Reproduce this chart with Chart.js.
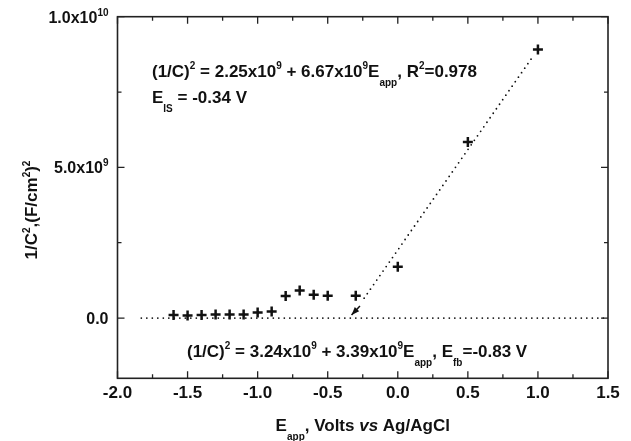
<!DOCTYPE html>
<html>
<head>
<meta charset="utf-8">
<script src="https://cdn.jsdelivr.net/npm/chart.js@4.4.1/dist/chart.umd.min.js"></script>
<style>
  html, body { margin: 0; padding: 0; background: #fff; }
  #wrap { width: 631px; height: 441px; }
</style>
</head>
<body>
<div id="wrap"><canvas id="mottSchottky" width="631" height="441"></canvas></div>
<script>
// Mott-Schottky plot: 1/C^2 against applied potential.
// Scatter of measured points + two dotted fit lines, framed box axes
// with inward ticks. Rich text (super/subscripts) is drawn by a plugin.

const FONT = "'Liberation Sans', Arial, sans-serif";
const INK = "#111";

// Measured points (E_app in V vs Ag/AgCl)
const eApp = [-1.6, -1.5, -1.4, -1.3, -1.2, -1.1, -1.0, -0.9, -0.8, -0.7, -0.6, -0.5, -0.3, 0.0, 0.5, 1.0];
const invC2 = [0.10e9, 0.08e9, 0.10e9, 0.12e9, 0.12e9, 0.12e9, 0.18e9, 0.22e9,
               0.73e9, 0.91e9, 0.77e9, 0.74e9, 0.74e9, 1.70e9, 5.84e9, 8.91e9];

// Dotted fit lines, ends
const steepFitX = [-0.24, 0.97];
const steepFitY = [0.66e9, 8.72e9];
const flatFitX = [-1.83, 1.5];
const flatFitY = [0, 0];

// Small arrow pointing at the intercept of the steep fit
const arrowTail = [-0.27, 0.40e9];
const arrowHead = [-0.33, 0.10e9];

// Axis ticks
const xMajorTicks = [-2.0, -1.5, -1.0, -0.5, 0.0, 0.5, 1.0, 1.5];
const xMinorTicks = [-1.75, -1.25, -0.75, -0.25, 0.25, 0.75, 1.25];
const yMajorTicks = [0, 5e9, 1e10];
const yMinorTicks = [2.5e9, 7.5e9];
const yTickLabels = ["0.0", "5.0x10^{9}", "1.0x10^{10}"];

// Text ( ^{} superscript, _{} subscript, ~{} italic )
const fitText1 = "(1/C)^{2} = 2.25x10^{9} + 6.67x10^{9}E_{app}, R^{2}=0.978";
const fitText2 = "E_{IS} = -0.34 V";
const fitText3 = "(1/C)^{2} = 3.24x10^{9} + 3.39x10^{9}E_{app}, E_{fb}=-0.83 V";
const xTitle = "E_{app}, Volts ~{vs} Ag/AgCl";
const yTitle = "1/C^{2},(F/cm^{2})^{2}";

// ─── Rich text helpers ───────────────────────────────────────────────────────

function parseRich(s) {
  const parts = [];
  const re = /([\^_~])\{([^}]*)\}/g;
  let last = 0, m;
  while ((m = re.exec(s))) {
    if (m.index > last) parts.push({ t: s.slice(last, m.index), k: "" });
    parts.push({ t: m[2], k: m[1] });
    last = re.lastIndex;
  }
  if (last < s.length) parts.push({ t: s.slice(last), k: "" });
  return parts;
}

function drawRich(ctx, s, x, y, size, align) {
  const parts = parseRich(s);
  const small = Math.round(size * 0.6);
  const fontFor = (k) =>
    k === "^" || k === "_" ? `bold ${small}px ${FONT}`
    : k === "~" ? `italic bold ${size}px ${FONT}`
    : `bold ${size}px ${FONT}`;
  let w = 0;
  parts.forEach((p) => { ctx.font = fontFor(p.k); p.w = ctx.measureText(p.t).width; w += p.w; });
  let cx = align === "center" ? x - w / 2 : align === "right" ? x - w : x;
  ctx.textAlign = "left";
  ctx.textBaseline = "alphabetic";
  ctx.fillStyle = INK;
  parts.forEach((p) => {
    ctx.font = fontFor(p.k);
    const dy = p.k === "^" ? -size * 0.42 : p.k === "_" ? size * 0.55 : 0;
    ctx.fillText(p.t, cx, y + dy);
    cx += p.w;
  });
}

// ─── Frame, ticks, labels, annotations ───────────────────────────────────────

const framePlugin = {
  id: "frame",
  afterDraw(chart) {
    const { ctx, chartArea: a, scales } = chart;
    const xs = scales.x, ys = scales.y;
    ctx.save();
    ctx.strokeStyle = "#222";
    ctx.lineWidth = 1.6;
    ctx.strokeRect(a.left, a.top, a.right - a.left, a.bottom - a.top);

    ctx.lineWidth = 1.3;
    ctx.beginPath();
    const xTick = (v, len) => {
      const px = xs.getPixelForValue(v);
      ctx.moveTo(px, a.bottom); ctx.lineTo(px, a.bottom - len);
      ctx.moveTo(px, a.top); ctx.lineTo(px, a.top + len);
    };
    const yTick = (v, len) => {
      const py = ys.getPixelForValue(v);
      ctx.moveTo(a.left, py); ctx.lineTo(a.left + len, py);
      ctx.moveTo(a.right, py); ctx.lineTo(a.right - len, py);
    };
    xMajorTicks.forEach((v) => xTick(v, 7));
    xMinorTicks.forEach((v) => xTick(v, 4));
    yMajorTicks.forEach((v) => yTick(v, 7));
    yMinorTicks.forEach((v) => yTick(v, 4));
    ctx.stroke();

    // y tick labels with exponents
    yMajorTicks.forEach((v, i) => {
      drawRich(ctx, yTickLabels[i], a.left - 9, ys.getPixelForValue(v) + 5.8, 16, "right");
    });

    // axis titles
    drawRich(ctx, xTitle, (a.left + a.right) / 2, 431, 17, "center");
    ctx.save();
    ctx.translate(37, 210);
    ctx.rotate(-Math.PI / 2);
    drawRich(ctx, yTitle, 0, 0, 17, "center");
    ctx.restore();

    // fit equations
    drawRich(ctx, fitText1, 152, 76.5, 17, "left");
    drawRich(ctx, fitText2, 152, 102.5, 17, "left");
    drawRich(ctx, fitText3, 187, 356.5, 17, "left");

    // arrow
    const tx = xs.getPixelForValue(arrowTail[0]), ty = ys.getPixelForValue(arrowTail[1]);
    const hx = xs.getPixelForValue(arrowHead[0]), hy = ys.getPixelForValue(arrowHead[1]);
    const ang = Math.atan2(hy - ty, hx - tx);
    ctx.strokeStyle = INK;
    ctx.fillStyle = INK;
    ctx.lineWidth = 1.5;
    ctx.beginPath();
    ctx.moveTo(tx, ty);
    ctx.lineTo(hx, hy);
    ctx.stroke();
    ctx.beginPath();
    ctx.moveTo(hx, hy);
    ctx.lineTo(hx - 8 * Math.cos(ang) + 3 * Math.sin(ang), hy - 8 * Math.sin(ang) - 3 * Math.cos(ang));
    ctx.lineTo(hx - 8 * Math.cos(ang) - 3 * Math.sin(ang), hy - 8 * Math.sin(ang) + 3 * Math.cos(ang));
    ctx.closePath();
    ctx.fill();
    ctx.restore();
  },
};

// ─── Chart ───────────────────────────────────────────────────────────────────

const toPoints = (xs, ys) => xs.map((x, i) => ({ x, y: ys[i] }));

const dottedLine = (xs, ys) => ({
  data: toPoints(xs, ys),
  showLine: true,
  borderColor: INK,
  borderWidth: 1.8,
  borderDash: [0, 5.5],
  borderCapStyle: "round",
  pointRadius: 0,
  fill: false,
});

new Chart(document.getElementById("mottSchottky"), {
  type: "scatter",
  data: {
    datasets: [
      {
        data: toPoints(eApp, invC2),
        pointStyle: "cross",
        pointRadius: 5,
        pointBorderWidth: 2.5,
        pointBorderColor: INK,
        pointBackgroundColor: INK,
      },
      dottedLine(steepFitX, steepFitY),
      dottedLine(flatFitX, flatFitY),
    ],
  },
  options: {
    responsive: false,
    animation: false,
    layout: { padding: { left: 117.5, top: 16.7, right: 23, bottom: 0 } },
    plugins: { legend: { display: false }, tooltip: { enabled: false } },
    scales: {
      x: {
        type: "linear",
        min: -2,
        max: 1.5,
        afterFit: (s) => { s.height = 62.7; },
        afterBuildTicks: (s) => { s.ticks = xMajorTicks.map((v) => ({ value: v })); },
        grid: { display: false, drawTicks: false },
        border: { display: false },
        ticks: {
          padding: 5,
          color: INK,
          autoSkip: false,
          maxRotation: 0,
          font: { family: FONT, size: 17, weight: "bold" },
          callback: (v) => Number(v).toFixed(1),
        },
      },
      y: { type: "linear", min: -2e9, max: 1e10, display: false },
    },
  },
  plugins: [framePlugin],
});
</script>
</body>
</html>
